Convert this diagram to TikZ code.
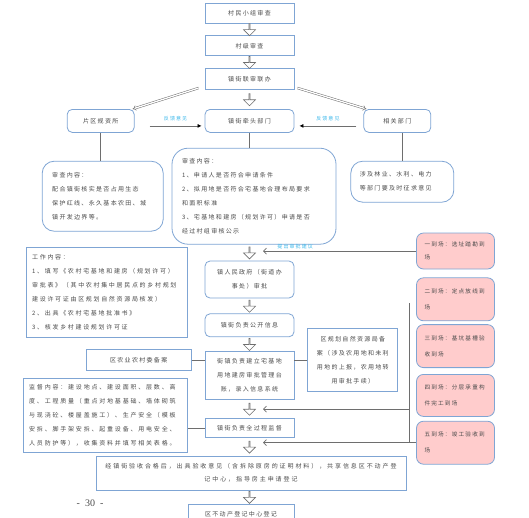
\documentclass[tikz,border=0pt]{standalone}
\usepackage{fontspec}
\setmainfont{Noto Sans CJK SC}[LetterSpace=22]
\newfontfamily\numfont{Liberation Serif}
\usetikzlibrary{positioning, shapes.arrows, arrows.meta}

\definecolor{boxblue}{HTML}{7FA5D4}
\definecolor{txtgray}{HTML}{4A4A4A}
\definecolor{pinkfill}{HTML}{FFCCCC}
\definecolor{fbcyan}{HTML}{3DB8EA}
\definecolor{linegray}{HTML}{6E6E6E}

\begin{document}
\begin{tikzpicture}[
        x=1pt, y=-1pt,
        node distance=12pt and 14pt,
        every node/.style={font=\fontsize{6}{14}\selectfont, text=txtgray},
        box/.style={rectangle, draw=boxblue, line width=0.8pt, fill=white, minimum width=89pt, minimum height=20pt, align=center, inner sep=2pt},
        rbox/.style={box, rounded corners=5pt},
        note/.style={box, rounded corners=12pt, align=left, inner xsep=10pt},
        pinkbox/.style={box, fill=pinkfill, rounded corners=7pt, align=left, minimum width=78pt, minimum height=43pt, text width=62pt, inner xsep=8pt, font=\fontsize{5.6}{16}\selectfont},
        harrow/.style={single arrow, draw=linegray, fill=white, line width=0.6pt, rotate=-90, minimum width=12pt, minimum height=12pt, single arrow head extend=3pt, single arrow head indent=0pt, inner sep=0pt},
        dbl/.style={draw=linegray, double, double distance=1.3pt, line width=0.5pt, -{Implies}},
        fb/.style={draw=linegray, line width=0.7pt, -{Latex[length=4pt, width=4pt, color=black]}},
        link/.style={draw=linegray, line width=0.7pt},
        sugg/.style={link, -{Straight Barb[length=3pt, width=6pt]}},
        lbl/.style={text=fbcyan, font=\fontsize{5}{6}\selectfont, inner sep=1.5pt}
        ]
        \useasboundingbox (0,0) rectangle (529,517);

        % main column
        \node[box] (c1) at (249.5,13) {村民小组审查};
        \node[box, below=of c1] (c2) {村级审查};
        \node[box, below=of c2, minimum height=21pt] (c3) {镇街联审联办};
        \node[rbox, below=19pt of c3, minimum height=23pt] (c4) {镇街牵头部门};
        \node[rbox, left=70pt of c4, minimum width=67pt, minimum height=23pt] (pq) {片区规资所};
        \node[rbox, right=69pt of c4, minimum width=67pt, minimum height=23pt] (xg) {相关部门};

        \node[note, below=28pt of pq, xshift=2pt, text width=101pt, minimum height=70pt] (pqnote) {审查内容：\\配合镇街核实是否占用生态\\保护红线、永久基本农田、城\\镇开发边界等。};
        \node[note, below=15pt of c4, xshift=4.5pt, text width=144pt, minimum height=96pt, rounded corners=16pt] (cr) {审查内容：\\1、申请人是否符合申请条件\\2、拟用地是否符合宅基地合理布局要求\\和面积标准\\3、宅基地和建房（规划许可）申请是否\\经过村组审核公示};
        \node[note, below=28pt of xg, xshift=5pt, text width=85pt, inner xsep=9pt, minimum height=41pt] (xgnote) {涉及林业、水利、电力\\等部门要及时征求意见};

        \node[rbox, below=16pt of cr, xshift=-4.5pt, minimum height=37pt] (c5) {镇人民政府（街道办\\事处）审批};
        \node[rbox, below=15pt of c5, minimum height=23pt] (c6) {镇街负责公开信息};
        \node[box, below=14pt of c6, minimum height=48pt] (c7) {街镇负责建立宅基地\\用地建房审批管理台\\账，录入信息系统};
        \node[box, below=18pt of c7, minimum height=19pt] (c8) {镇街负责全过程监督};
        \node[box, below=18pt of c8, xshift=1.5pt, minimum width=310pt, minimum height=34pt, font=\fontsize{6}{13}\selectfont\addfontfeature{LetterSpace=32}] (c9) {经镇街验收合格后，出具验收意见（含拆除原房的证明材料），共享信息区不动产登\\记中心，指导房主申请登记};
        \node[box, below=13pt of c9, xshift=-10pt, minimum width=106pt, minimum height=21pt] (c10) {区不动产登记中心登记};

        % side boxes
        \node[box, left=17pt of c5, yshift=-12.5pt, align=left, text width=149pt, inner xsep=6pt, minimum height=90pt, font=\fontsize{6}{14}\selectfont\addfontfeature{LetterSpace=28}] (gz) {工作内容：\\1、填写《农村宅基地和建房（规划许可）\\审批表》（其中农村集中居民点的乡村规划\\建设许可证由区规划自然资源局核发）\\2、出具《农村宅基地批准书》\\3、核发乡村建设规划许可证};
        \node[box, left=13pt of c7, yshift=15.5pt, minimum width=105pt, minimum height=21pt] (nb) {区农业农村委备案};
        \node[box, right=13pt of c7, yshift=15.5pt, minimum width=90pt, minimum height=63pt] (gh) {区规划自然资源局备\\案（涉及农用地和未利\\用地的上报，农用地转\\用审批手续）};
        \node[box, left=17pt of c8, yshift=12.5pt, align=left, text width=152pt, inner xsep=6pt, minimum height=74pt, font=\fontsize{6}{14}\selectfont\addfontfeature{LetterSpace=30}] (jd) {监督内容：建设地点、建设面积、层数、高\\度、工程质量（重点对地基基础、墙体砌筑\\与现浇砼、楼屋盖施工）、生产安全（模板\\安拆、脚手架安拆、起重设备、用电安全、\\人员防护等），收集资料并填写相关表格。};

        % five site visits
        \node[pinkbox, minimum height=36pt, font=\fontsize{5.6}{13}\selectfont] (p1) at (455.5,251) {一到场：选址踏勘到\\场};
        \node[pinkbox, below=8pt of p1] (p2) {二到场：定点放线到\\场};
        \node[pinkbox, below=3pt of p2] (p3) {三到场：基坑基槽验\\收到场};
        \node[pinkbox, below=6pt of p3, minimum height=42pt] (p4) {四到场：分层承重构\\件完工到场};
        \node[pinkbox, below=4pt of p4] (p5) {五到场：竣工验收到\\场};
        \node[font=\numfont\fontsize{10}{12}\selectfont] (pg) at (90,503) {-\enspace 30\enspace -};

        % hollow arrows
        \path (c1) -- (c2) node[midway, harrow] (h12) {};
        \path (c2) -- (c3) node[midway, harrow] (h23) {};
        \path (c3) -- (c4) node[midway, harrow] (h34) {};
        \path (cr.south -| c5) -- (c5) node[midway, harrow] (hr5) {};
        \path (c5) -- (c6) node[midway, harrow] (h56) {};
        \path (c6) -- (c7) node[midway, harrow] (h67) {};
        \path (c7) -- (c8) node[midway, harrow] (h78) {};
        \path (c8.south) -- (c9.north -| c8) node[midway, harrow] (h89) {};
        \path (c9.south -| c8) -- (c10.north -| c8) node[midway, harrow] (h910) {};

        % connectors
        \draw[dbl] ([xshift=-6pt, yshift=2pt]c3.south west) -- ([xshift=-2pt]pq.north east);
        \draw[dbl] ([xshift=3pt, yshift=2pt]c3.south east) -- ([xshift=3pt]xg.north west);
        \draw[fb] ([xshift=15pt, yshift=-5pt]pq.east) -- ([xshift=-3pt, yshift=-5pt]c4.west) node[midway, above=3pt, lbl] {反馈意见};
        \draw[fb] ([xshift=-7pt, yshift=-5pt]xg.west) -- ([xshift=5pt, yshift=-5pt]c4.east) node[midway, above=3pt, lbl] {反馈意见};
        \draw[link] (pq.south) -- (pq.south |- pqnote.north);
        \draw[link] (c4.south) -- (c4.south |- cr.north);
        \draw[link] (xgnote.north) -- (xgnote.north |- xg.south);
        \draw[link] (nb.east) -- (nb.east -| c7.west);
        \draw[link] (gh.west) -- (gh.west -| c7.east);
        \draw[link] (c8.west) -- (c8.west -| jd.east);

        \coordinate (vtop) at ([xshift=-7pt, yshift=-4pt]p2.west);
        \draw[sugg] (p1.west) -- ([xshift=13.5pt]hr5.center |- p1.west) node[pos=0.79, above, lbl] {提出审批建议};
        \draw[link] (vtop) -- (vtop |- p5.west);
        \draw[sugg] (vtop |- h78) -- ([xshift=13.5pt]h78.center);
        \draw[sugg] (p5.west) -- ([xshift=13.5pt]h89.center |- p5.west);
    \end{tikzpicture}
\end{document}
